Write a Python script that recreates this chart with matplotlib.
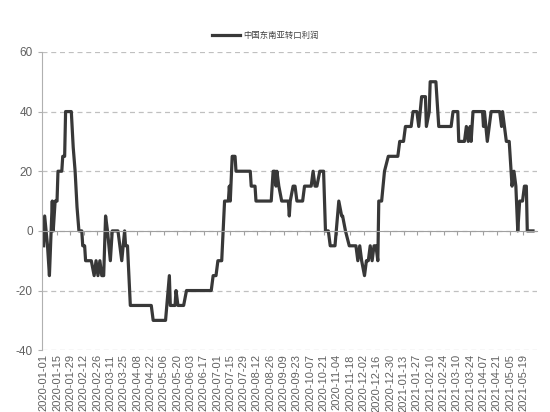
import pandas as pd
import matplotlib.pyplot as plt
import matplotlib.dates as mdates

plt.rcParams['font.family'] = ['Liberation Sans', 'Noto Sans CJK SC', 'DejaVu Sans']
plt.rcParams['axes.unicode_minus'] = False

start = pd.Timestamp("2020-01-01")

# day offsets from 2020-01-01 and the profit read at each turning point
day_offsets = [0, 1, 4, 6, 9, 10, 12, 14, 15, 19, 20, 22, 23, 29, 31, 33, 35, 37, 40, 41,
               43, 44, 50, 53, 55, 57, 59, 61, 63, 65, 67, 70, 72, 78, 82, 85, 86, 88, 91, 113,
               115, 128, 132, 133, 138, 139, 141, 147, 150, 176, 178, 181, 183, 187, 190, 194, 195, 196, 198, 201,
               202, 217, 218, 222, 223, 239, 241, 243, 244, 245, 247, 250, 257, 258, 259, 262, 264, 266, 272, 274,
               281, 283, 285, 287, 290, 294, 296, 299, 301, 306, 310, 313, 314, 317, 321, 328, 330, 332, 334, 337,
               339, 341, 343, 345, 347, 349, 351, 352, 355, 358, 362, 372, 374, 378, 380, 386, 388, 392, 394, 397,
               401, 402, 405, 406, 412, 415, 428, 430, 435, 436, 442, 444, 446, 448, 449, 451, 461, 462, 463, 466,
               468, 470, 479, 481, 482, 484, 486, 489, 491, 492, 494, 496, 498, 500, 503, 505, 507, 508, 514]
profit = [-5, 5, -5, -15, 10, 0, 10, 10, 20, 20, 25, 25, 40, 40, 28, 20, 8, 0, 0, -5,
          -5, -10, -10, -15, -10, -15, -10, -15, -15, 5, 0, -10, 0, 0, -10, 0, -5, -5, -25, -25,
          -30, -30, -15, -25, -25, -20, -25, -25, -20, -20, -15, -15, -10, -10, 10, 10, 15, 10, 25, 25,
          20, 20, 15, 15, 10, 10, 20, 20, 15, 20, 15, 10, 10, 5, 10, 15, 15, 10, 10, 15,
          15, 20, 15, 15, 20, 20, 0, 0, -5, -5, 10, 5, 5, 0, -5, -5, -10, -5, -10, -15,
          -10, -10, -5, -10, -5, -5, -10, 10, 10, 20, 25, 25, 30, 30, 35, 35, 40, 40, 35, 45,
          45, 35, 40, 50, 50, 35, 35, 40, 40, 30, 30, 35, 30, 35, 30, 40, 40, 35, 40, 30,
          35, 40, 40, 35, 40, 35, 30, 30, 20, 15, 20, 15, 0, 10, 10, 15, 15, 0, 0]

series_name = "中国东南亚转口利润"
dates = start + pd.to_timedelta(day_offsets, unit="D")
tick_dates = pd.date_range("2020-01-01", "2021-05-19", freq="14D")
y_ticks = [-40, -20, 0, 20, 40, 60]

fig = plt.figure(figsize=(5.5, 4.12), dpi=100)
ax = fig.add_axes([0.076, 0.15, 0.9, 0.724])

ax.plot(dates, profit, color="#383838", linewidth=2.3, label=series_name)

ax.set_ylim(-40, 60)
ax.set_yticks(y_ticks)
ax.set_xlim(start - pd.Timedelta(days=2), start + pd.Timedelta(days=518))

ax.yaxis.grid(True, linestyle=(0, (4, 3)), color="#c0c0c0", linewidth=0.9)
ax.set_axisbelow(True)

for side in ["top", "right"]:
    ax.spines[side].set_visible(False)
ax.spines["left"].set_color("#b0b0b0")
ax.spines["bottom"].set_color("#a0a0a0")
ax.spines["bottom"].set_position(("data", 0))

ax.set_xticks(tick_dates)
ax.tick_params(axis="x", direction="out", length=3, color="#a0a0a0", labelbottom=False)
ax.tick_params(axis="y", direction="out", length=3, color="#b0b0b0", labelsize=8.5, labelcolor="#606060")

# date labels sit at the bottom of the plot, the axis line stays at zero
sec = ax.secondary_xaxis("bottom")
sec.set_xticks(tick_dates)
sec.xaxis.set_major_formatter(mdates.DateFormatter("%Y-%m-%d"))
sec.spines["bottom"].set_visible(False)
sec.tick_params(axis="x", length=0, pad=3, labelsize=8, labelcolor="#606060", rotation=90)

fig.legend(loc="center", bbox_to_anchor=(0.482, 0.915), frameon=False, handlelength=3.4,
           handletextpad=0.4,
           prop={"family": ["Noto Sans CJK SC", "DejaVu Sans"], "size": 6}, labelcolor="#404040")

fig.savefig("out.png", dpi=100)
plt.close(fig)
